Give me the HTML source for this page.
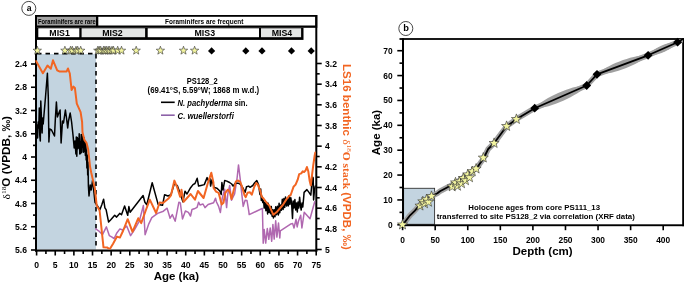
<!DOCTYPE html>
<html><head><meta charset="utf-8"><style>
html,body{margin:0;padding:0;background:#fff;}
body{width:685px;height:284px;overflow:hidden;}
svg{display:block;will-change:transform;}
</style></head><body>
<svg width="685" height="284" viewBox="0 0 685 284">
<rect width="685" height="284" fill="#fff"/>
<circle cx="28.8" cy="8.4" r="7" fill="#fff" stroke="#333" stroke-width="0.9"/>
<text x="29.10" y="10.50" font-family="Liberation Sans, sans-serif" font-size="8.6" font-weight="bold" fill="#000" text-anchor="middle"  >a</text>
<rect x="35.00" y="15.00" width="282.30" height="12.80" fill="#000" />
<rect x="37.00" y="16.80" width="59.00" height="8.70" fill="#a3a3a3" />
<rect x="98.30" y="16.80" width="217.00" height="8.70" fill="#fff" />
<rect x="35.00" y="27.80" width="268.50" height="12.10" fill="#000" />
<rect x="38.30" y="28.30" width="41.00" height="8.90" fill="#fff" />
<rect x="81.60" y="28.30" width="63.50" height="8.90" fill="#e4e6e5" />
<rect x="147.70" y="28.30" width="111.30" height="8.90" fill="#fff" />
<rect x="261.00" y="28.30" width="40.10" height="8.90" fill="#e4e6e5" />
<text x="38.00" y="23.50" font-family="Liberation Sans, sans-serif" font-size="6.7" font-weight="bold" fill="#000" text-anchor="start"  textLength="57.6" lengthAdjust="spacingAndGlyphs">Foraminifers are rare</text>
<text x="165.00" y="23.90" font-family="Liberation Sans, sans-serif" font-size="6.8" font-weight="bold" fill="#000" text-anchor="start"  textLength="78.4" lengthAdjust="spacingAndGlyphs">Foraminifers are frequent</text>
<text x="59.60" y="36.20" font-family="Liberation Sans, sans-serif" font-size="8.8" font-weight="bold" fill="#000" text-anchor="middle"  >MIS1</text>
<text x="112.50" y="36.20" font-family="Liberation Sans, sans-serif" font-size="8.8" font-weight="bold" fill="#000" text-anchor="middle"  >MIS2</text>
<text x="204.80" y="36.20" font-family="Liberation Sans, sans-serif" font-size="8.8" font-weight="bold" fill="#000" text-anchor="middle"  >MIS3</text>
<text x="282.00" y="36.20" font-family="Liberation Sans, sans-serif" font-size="8.8" font-weight="bold" fill="#000" text-anchor="middle"  >MIS4</text>
<rect x="37.00" y="54.00" width="59.00" height="195.50" fill="#c3d4e0" />
<rect x="35.00" y="15.00" width="2.00" height="236.60" fill="#000" />
<rect x="315.30" y="15.00" width="2.00" height="236.60" fill="#000" />
<rect x="35.00" y="249.50" width="282.30" height="2.10" fill="#000" />
<line x1="31.00" y1="64.00" x2="36.00" y2="64.00" stroke="#000" stroke-width="1.6" />
<text x="27.00" y="67.10" font-family="Liberation Sans, sans-serif" font-size="8.6" font-weight="bold" fill="#000" text-anchor="end"  >2.4</text>
<line x1="33.00" y1="75.62" x2="36.00" y2="75.62" stroke="#000" stroke-width="1.6" />
<line x1="31.00" y1="87.25" x2="36.00" y2="87.25" stroke="#000" stroke-width="1.6" />
<text x="27.00" y="90.35" font-family="Liberation Sans, sans-serif" font-size="8.6" font-weight="bold" fill="#000" text-anchor="end"  >2.8</text>
<line x1="33.00" y1="98.88" x2="36.00" y2="98.88" stroke="#000" stroke-width="1.6" />
<line x1="31.00" y1="110.50" x2="36.00" y2="110.50" stroke="#000" stroke-width="1.6" />
<text x="27.00" y="113.60" font-family="Liberation Sans, sans-serif" font-size="8.6" font-weight="bold" fill="#000" text-anchor="end"  >3.2</text>
<line x1="33.00" y1="122.12" x2="36.00" y2="122.12" stroke="#000" stroke-width="1.6" />
<line x1="31.00" y1="133.75" x2="36.00" y2="133.75" stroke="#000" stroke-width="1.6" />
<text x="27.00" y="136.85" font-family="Liberation Sans, sans-serif" font-size="8.6" font-weight="bold" fill="#000" text-anchor="end"  >3.6</text>
<line x1="33.00" y1="145.38" x2="36.00" y2="145.38" stroke="#000" stroke-width="1.6" />
<line x1="31.00" y1="157.00" x2="36.00" y2="157.00" stroke="#000" stroke-width="1.6" />
<text x="27.00" y="160.10" font-family="Liberation Sans, sans-serif" font-size="8.6" font-weight="bold" fill="#000" text-anchor="end"  >4</text>
<line x1="33.00" y1="168.62" x2="36.00" y2="168.62" stroke="#000" stroke-width="1.6" />
<line x1="31.00" y1="180.25" x2="36.00" y2="180.25" stroke="#000" stroke-width="1.6" />
<text x="27.00" y="183.35" font-family="Liberation Sans, sans-serif" font-size="8.6" font-weight="bold" fill="#000" text-anchor="end"  >4.4</text>
<line x1="33.00" y1="191.88" x2="36.00" y2="191.88" stroke="#000" stroke-width="1.6" />
<line x1="31.00" y1="203.50" x2="36.00" y2="203.50" stroke="#000" stroke-width="1.6" />
<text x="27.00" y="206.60" font-family="Liberation Sans, sans-serif" font-size="8.6" font-weight="bold" fill="#000" text-anchor="end"  >4.8</text>
<line x1="33.00" y1="215.12" x2="36.00" y2="215.12" stroke="#000" stroke-width="1.6" />
<line x1="31.00" y1="226.75" x2="36.00" y2="226.75" stroke="#000" stroke-width="1.6" />
<text x="27.00" y="229.85" font-family="Liberation Sans, sans-serif" font-size="8.6" font-weight="bold" fill="#000" text-anchor="end"  >5.2</text>
<line x1="33.00" y1="238.38" x2="36.00" y2="238.38" stroke="#000" stroke-width="1.6" />
<line x1="31.00" y1="250.00" x2="36.00" y2="250.00" stroke="#000" stroke-width="1.6" />
<text x="27.00" y="253.10" font-family="Liberation Sans, sans-serif" font-size="8.6" font-weight="bold" fill="#000" text-anchor="end"  >5.6</text>
<line x1="316.00" y1="63.50" x2="321.70" y2="63.50" stroke="#000" stroke-width="1.6" />
<text x="325.00" y="66.60" font-family="Liberation Sans, sans-serif" font-size="8.6" font-weight="bold" fill="#000" text-anchor="start"  >3.2</text>
<line x1="316.00" y1="73.83" x2="319.70" y2="73.83" stroke="#000" stroke-width="1.6" />
<line x1="316.00" y1="84.17" x2="321.70" y2="84.17" stroke="#000" stroke-width="1.6" />
<text x="325.00" y="87.27" font-family="Liberation Sans, sans-serif" font-size="8.6" font-weight="bold" fill="#000" text-anchor="start"  >3.4</text>
<line x1="316.00" y1="94.50" x2="319.70" y2="94.50" stroke="#000" stroke-width="1.6" />
<line x1="316.00" y1="104.83" x2="321.70" y2="104.83" stroke="#000" stroke-width="1.6" />
<text x="325.00" y="107.93" font-family="Liberation Sans, sans-serif" font-size="8.6" font-weight="bold" fill="#000" text-anchor="start"  >3.6</text>
<line x1="316.00" y1="115.17" x2="319.70" y2="115.17" stroke="#000" stroke-width="1.6" />
<line x1="316.00" y1="125.50" x2="321.70" y2="125.50" stroke="#000" stroke-width="1.6" />
<text x="325.00" y="128.60" font-family="Liberation Sans, sans-serif" font-size="8.6" font-weight="bold" fill="#000" text-anchor="start"  >3.8</text>
<line x1="316.00" y1="135.83" x2="319.70" y2="135.83" stroke="#000" stroke-width="1.6" />
<line x1="316.00" y1="146.17" x2="321.70" y2="146.17" stroke="#000" stroke-width="1.6" />
<text x="325.00" y="149.27" font-family="Liberation Sans, sans-serif" font-size="8.6" font-weight="bold" fill="#000" text-anchor="start"  >4</text>
<line x1="316.00" y1="156.50" x2="319.70" y2="156.50" stroke="#000" stroke-width="1.6" />
<line x1="316.00" y1="166.83" x2="321.70" y2="166.83" stroke="#000" stroke-width="1.6" />
<text x="325.00" y="169.93" font-family="Liberation Sans, sans-serif" font-size="8.6" font-weight="bold" fill="#000" text-anchor="start"  >4.2</text>
<line x1="316.00" y1="177.17" x2="319.70" y2="177.17" stroke="#000" stroke-width="1.6" />
<line x1="316.00" y1="187.50" x2="321.70" y2="187.50" stroke="#000" stroke-width="1.6" />
<text x="325.00" y="190.60" font-family="Liberation Sans, sans-serif" font-size="8.6" font-weight="bold" fill="#000" text-anchor="start"  >4.4</text>
<line x1="316.00" y1="197.83" x2="319.70" y2="197.83" stroke="#000" stroke-width="1.6" />
<line x1="316.00" y1="208.17" x2="321.70" y2="208.17" stroke="#000" stroke-width="1.6" />
<text x="325.00" y="211.27" font-family="Liberation Sans, sans-serif" font-size="8.6" font-weight="bold" fill="#000" text-anchor="start"  >4.6</text>
<line x1="316.00" y1="218.50" x2="319.70" y2="218.50" stroke="#000" stroke-width="1.6" />
<line x1="316.00" y1="228.83" x2="321.70" y2="228.83" stroke="#000" stroke-width="1.6" />
<text x="325.00" y="231.93" font-family="Liberation Sans, sans-serif" font-size="8.6" font-weight="bold" fill="#000" text-anchor="start"  >4.8</text>
<line x1="316.00" y1="239.17" x2="319.70" y2="239.17" stroke="#000" stroke-width="1.6" />
<line x1="316.00" y1="249.50" x2="321.70" y2="249.50" stroke="#000" stroke-width="1.6" />
<text x="325.00" y="252.60" font-family="Liberation Sans, sans-serif" font-size="8.6" font-weight="bold" fill="#000" text-anchor="start"  >5</text>
<line x1="36.60" y1="250.00" x2="36.60" y2="255.50" stroke="#000" stroke-width="1.6" />
<text x="36.60" y="267.80" font-family="Liberation Sans, sans-serif" font-size="8.6" font-weight="bold" fill="#000" text-anchor="middle"  >0</text>
<line x1="45.92" y1="250.00" x2="45.92" y2="254.00" stroke="#000" stroke-width="1.6" />
<line x1="55.24" y1="250.00" x2="55.24" y2="255.50" stroke="#000" stroke-width="1.6" />
<text x="55.24" y="267.80" font-family="Liberation Sans, sans-serif" font-size="8.6" font-weight="bold" fill="#000" text-anchor="middle"  >5</text>
<line x1="64.56" y1="250.00" x2="64.56" y2="254.00" stroke="#000" stroke-width="1.6" />
<line x1="73.88" y1="250.00" x2="73.88" y2="255.50" stroke="#000" stroke-width="1.6" />
<text x="73.88" y="267.80" font-family="Liberation Sans, sans-serif" font-size="8.6" font-weight="bold" fill="#000" text-anchor="middle"  >10</text>
<line x1="83.20" y1="250.00" x2="83.20" y2="254.00" stroke="#000" stroke-width="1.6" />
<line x1="92.52" y1="250.00" x2="92.52" y2="255.50" stroke="#000" stroke-width="1.6" />
<text x="92.52" y="267.80" font-family="Liberation Sans, sans-serif" font-size="8.6" font-weight="bold" fill="#000" text-anchor="middle"  >15</text>
<line x1="101.84" y1="250.00" x2="101.84" y2="254.00" stroke="#000" stroke-width="1.6" />
<line x1="111.16" y1="250.00" x2="111.16" y2="255.50" stroke="#000" stroke-width="1.6" />
<text x="111.16" y="267.80" font-family="Liberation Sans, sans-serif" font-size="8.6" font-weight="bold" fill="#000" text-anchor="middle"  >20</text>
<line x1="120.48" y1="250.00" x2="120.48" y2="254.00" stroke="#000" stroke-width="1.6" />
<line x1="129.80" y1="250.00" x2="129.80" y2="255.50" stroke="#000" stroke-width="1.6" />
<text x="129.80" y="267.80" font-family="Liberation Sans, sans-serif" font-size="8.6" font-weight="bold" fill="#000" text-anchor="middle"  >25</text>
<line x1="139.12" y1="250.00" x2="139.12" y2="254.00" stroke="#000" stroke-width="1.6" />
<line x1="148.44" y1="250.00" x2="148.44" y2="255.50" stroke="#000" stroke-width="1.6" />
<text x="148.44" y="267.80" font-family="Liberation Sans, sans-serif" font-size="8.6" font-weight="bold" fill="#000" text-anchor="middle"  >30</text>
<line x1="157.76" y1="250.00" x2="157.76" y2="254.00" stroke="#000" stroke-width="1.6" />
<line x1="167.08" y1="250.00" x2="167.08" y2="255.50" stroke="#000" stroke-width="1.6" />
<text x="167.08" y="267.80" font-family="Liberation Sans, sans-serif" font-size="8.6" font-weight="bold" fill="#000" text-anchor="middle"  >35</text>
<line x1="176.40" y1="250.00" x2="176.40" y2="254.00" stroke="#000" stroke-width="1.6" />
<line x1="185.72" y1="250.00" x2="185.72" y2="255.50" stroke="#000" stroke-width="1.6" />
<text x="185.72" y="267.80" font-family="Liberation Sans, sans-serif" font-size="8.6" font-weight="bold" fill="#000" text-anchor="middle"  >40</text>
<line x1="195.04" y1="250.00" x2="195.04" y2="254.00" stroke="#000" stroke-width="1.6" />
<line x1="204.36" y1="250.00" x2="204.36" y2="255.50" stroke="#000" stroke-width="1.6" />
<text x="204.36" y="267.80" font-family="Liberation Sans, sans-serif" font-size="8.6" font-weight="bold" fill="#000" text-anchor="middle"  >45</text>
<line x1="213.68" y1="250.00" x2="213.68" y2="254.00" stroke="#000" stroke-width="1.6" />
<line x1="223.00" y1="250.00" x2="223.00" y2="255.50" stroke="#000" stroke-width="1.6" />
<text x="223.00" y="267.80" font-family="Liberation Sans, sans-serif" font-size="8.6" font-weight="bold" fill="#000" text-anchor="middle"  >50</text>
<line x1="232.32" y1="250.00" x2="232.32" y2="254.00" stroke="#000" stroke-width="1.6" />
<line x1="241.64" y1="250.00" x2="241.64" y2="255.50" stroke="#000" stroke-width="1.6" />
<text x="241.64" y="267.80" font-family="Liberation Sans, sans-serif" font-size="8.6" font-weight="bold" fill="#000" text-anchor="middle"  >55</text>
<line x1="250.96" y1="250.00" x2="250.96" y2="254.00" stroke="#000" stroke-width="1.6" />
<line x1="260.28" y1="250.00" x2="260.28" y2="255.50" stroke="#000" stroke-width="1.6" />
<text x="260.28" y="267.80" font-family="Liberation Sans, sans-serif" font-size="8.6" font-weight="bold" fill="#000" text-anchor="middle"  >60</text>
<line x1="269.60" y1="250.00" x2="269.60" y2="254.00" stroke="#000" stroke-width="1.6" />
<line x1="278.92" y1="250.00" x2="278.92" y2="255.50" stroke="#000" stroke-width="1.6" />
<text x="278.92" y="267.80" font-family="Liberation Sans, sans-serif" font-size="8.6" font-weight="bold" fill="#000" text-anchor="middle"  >65</text>
<line x1="288.24" y1="250.00" x2="288.24" y2="254.00" stroke="#000" stroke-width="1.6" />
<line x1="297.56" y1="250.00" x2="297.56" y2="255.50" stroke="#000" stroke-width="1.6" />
<text x="297.56" y="267.80" font-family="Liberation Sans, sans-serif" font-size="8.6" font-weight="bold" fill="#000" text-anchor="middle"  >70</text>
<line x1="306.88" y1="250.00" x2="306.88" y2="254.00" stroke="#000" stroke-width="1.6" />
<line x1="316.20" y1="250.00" x2="316.20" y2="255.50" stroke="#000" stroke-width="1.6" />
<text x="316.20" y="267.80" font-family="Liberation Sans, sans-serif" font-size="8.6" font-weight="bold" fill="#000" text-anchor="middle"  >75</text>
<text x="176.40" y="279.60" font-family="Liberation Sans, sans-serif" font-size="11.5" font-weight="bold" fill="#000" text-anchor="middle"  >Age (ka)</text>
<g transform="translate(9.6,157.8) rotate(-90)">
<text id="llab" x="0" y="0" font-family="Liberation Sans, sans-serif" font-size="11" font-weight="bold" text-anchor="middle" textLength="83.5" lengthAdjust="spacingAndGlyphs"><tspan font-family="Liberation Serif, serif" font-weight="normal">δ</tspan><tspan font-family="Liberation Serif, serif" font-weight="normal" font-size="7" dy="-4">18</tspan><tspan dy="4">O (VPDB, ‰)</tspan></text>
</g>
<g transform="translate(343,157) rotate(90)">
<text id="rlab" x="0" y="0" font-family="Liberation Sans, sans-serif" font-size="11.4" font-weight="bold" fill="#f26522" text-anchor="middle" textLength="186" lengthAdjust="spacingAndGlyphs">LS16 benthic <tspan font-family="Liberation Serif, serif" font-weight="normal">δ</tspan><tspan font-family="Liberation Serif, serif" font-weight="normal" font-size="7" dy="-4">18</tspan><tspan font-family="Liberation Serif, serif" dy="4">O stack </tspan><tspan>(VPDB, ‰)</tspan></text>
</g>
<path d="M37,53.6 H96 V249.5" fill="none" stroke="#000" stroke-width="1.6" stroke-dasharray="4.5,4"/>
<defs><clipPath id="cpa"><rect x="35.3" y="53" width="280.5" height="196.5"/></clipPath></defs>
<g clip-path="url(#cpa)">
<polyline points="95.7,228.9 98.6,230.8 102.5,234.7 106.4,226.9 109.3,235.6 111.6,236.9 114.1,238.5 117.0,232.7 119.9,228.9 122.5,230.0 126.7,226.0 130.6,235.6 134.4,229.8 139.3,221.1 143.4,205.5 145.1,234.7 148.8,223.8 151.8,217.7 157.6,213.4 163.4,211.2 167.1,208.2 170.1,218.2 172.3,214.6 175.2,221.2 178.9,202.2 180.3,202.9 182.5,219.0 185.4,211.0 188.4,212.4 190.5,216.0 192.0,209.5 194.2,208.8 197.1,207.3 198.6,202.2 200.0,205.0 203.0,204.0 205.0,207.6 208.1,204.5 213.6,202.7 215.5,198.3 216.5,202.0 218.6,206.4 220.4,212.5 222.3,197.7 224.7,189.1 226.6,207.6 227.8,194.0 229.7,185.4 231.5,200.2 234.6,194.0 237.1,178.0 238.5,164.9 240.1,178.0 240.9,186.1 243.2,206.4 245.1,200.2 247.0,200.5 248.8,211.3 249.2,214.6 261.6,208.8 262.4,208.5 263.2,243.2 264.2,229.5 265.7,243.1 267.3,228.6 268.8,239.3 270.2,228.1 271.7,241.3 272.9,224.4 274.2,239.1 275.7,220.7 276.9,237.1 278.5,223.1 279.8,237.9 280.3,230.8 290.2,224.3 292.6,223.4 294.0,228.0 296.0,219.3 297.2,226.9 298.5,221.0 300.7,215.2 301.9,228.0 304.2,212.3 310.0,218.7 314.7,201.8" fill="none" stroke="#b068b0" stroke-width="1.5" stroke-linejoin="round" stroke-linecap="round" />
<polyline points="37.0,125.0 37.6,138.0 38.2,122.0 38.8,128.0 39.3,108.0 39.8,136.0 40.3,141.0 40.8,101.0 41.6,122.0 42.1,133.0 42.6,118.0 43.2,124.0 45.5,97.0 47.4,73.3 48.3,97.0 48.6,121.0 48.9,142.0 49.7,129.0 51.5,130.0 54.5,136.0 55.4,118.0 56.4,102.0 57.4,117.0 58.5,114.0 60.1,110.0 61.1,143.0 62.5,121.0 63.5,123.0 65.4,110.0 66.5,118.0 67.7,128.0 68.5,121.0 70.2,113.0 71.6,122.0 73.0,135.0 74.2,148.0 75.0,141.0 75.9,154.0 76.3,137.1 76.8,156.2 77.3,137.6 77.8,148.8 78.2,138.7 78.8,147.9 79.2,133.8 79.8,153.9 80.1,141.8 80.7,153.5 81.2,134.4 81.6,152.3 81.9,134.7 82.3,147.3 82.8,137.0 83.4,152.2 83.9,137.5 84.4,151.6 84.8,142.0 85.4,155.4 85.9,143.0 86.2,160.0 86.5,150.0 86.9,168.0 87.3,155.0 87.7,175.0 88.0,162.0 88.4,186.0 89.0,196.0 90.2,185.0 91.2,190.0 92.6,180.0 94.0,193.0 95.0,202.3 97.5,206.0 99.9,209.7 101.8,204.8 103.6,199.2 104.9,207.9 106.1,209.7 108.6,222.1 111.0,219.6 114.7,215.3 116.6,217.1 119.7,213.4 121.5,214.7 124.6,206.0 127.7,215.3 128.9,206.6 130.1,212.2 143.1,195.5 144.9,202.3 146.8,204.8 152.2,182.7 158.2,204.6 162.5,205.3 164.6,194.7 168.0,196.0 170.9,194.7 174.4,183.5 177.3,185.6 180.1,193.3 182.9,201.8 185.0,191.2 187.0,194.0 190.6,187.7 193.0,184.6 195.0,183.5 197.2,178.3 198.6,186.1 201.0,185.5 204.3,184.6 207.1,177.6 208.5,181.0 209.9,178.3 210.6,186.1 212.0,179.7 214.1,187.5 217.0,188.2 219.8,191.0 221.2,194.5 221.9,182.5 223.0,190.0 224.7,180.4 226.8,181.1 229.6,182.5 231.7,184.0 233.1,186.1 235.3,183.2 238.1,183.2 240.9,184.6 243.0,188.2 245.1,192.4 246.5,186.8 248.6,186.1 250.0,187.3 252.8,185.5 254.5,183.0 256.8,180.5 258.6,184.9 260.0,194.6 260.7,188.9 261.3,200.5 262.0,196.3 262.8,202.6 263.6,200.6 264.2,208.1 265.2,202.3 265.9,210.7 266.8,202.6 267.6,214.0 268.2,203.2 268.9,212.3 269.6,206.2 270.5,213.7 271.3,206.6 272.1,216.3 272.7,209.7 273.4,217.9 274.2,209.8 275.0,216.7 275.7,206.8 276.6,214.7 277.4,206.3 278.4,214.9 279.1,203.3 279.8,212.7 280.7,205.0 281.4,210.2 282.3,199.3 283.1,209.5 283.9,198.5 284.7,207.4 285.5,196.9 286.5,206.0 287.3,198.8 288.2,206.0 289.2,195.5 289.9,204.4 290.8,197.7 291.6,203.1 292.5,218.5 293.2,200.9 294.0,208.0 294.9,199.5 295.7,210.0 296.5,203.0 297.3,212.0 298.0,202.0 298.8,208.0 299.6,197.2 300.5,206.0 301.2,210.0 302.0,203.0 302.8,207.0 303.6,198.4 304.1,192.4 306.9,189.6 309.0,192.4 310.8,195.2 312.5,176.9 313.2,178.0 313.6,200.0 314.5,190.0 315.3,186.0" fill="none" stroke="#000" stroke-width="1.5" stroke-linejoin="round" stroke-linecap="round" />
<polyline points="36.0,61.1 42.9,73.2 47.5,65.6 50.8,68.7 53.0,60.3 57.2,70.3 59.3,71.4 66.7,71.4 68.0,68.5 69.8,73.5 71.6,90.0 73.5,86.6 74.9,88.0 76.8,103.6 80.6,112.1 82.1,122.0 82.5,132.3 84.4,139.9 86.5,142.8 88.2,149.5 90.1,167.0 91.2,172.5 94.9,188.6 96.7,205.6 99.6,210.5 103.5,247.3 107.4,247.6 109.7,249.2 113.2,243.4 117.0,236.6 119.9,237.6 123.0,231.0 127.7,219.2 132.5,231.8 138.3,218.2 141.2,223.1 146.1,209.5 149.8,199.6 156.1,213.0 159.6,202.5 163.0,203.0 168.8,198.2 170.9,195.4 174.4,180.6 177.3,187.7 180.1,196.8 181.5,189.8 183.6,201.8 190.6,194.0 195.0,199.6 197.9,191.0 203.6,198.0 207.8,183.2 211.3,172.7 213.4,182.5 213.6,187.9 216.1,191.6 218.6,192.8 220.4,199.6 221.6,204.5 223.5,202.7 225.3,192.8 227.8,189.7 229.7,191.6 231.5,199.0 233.4,191.6 235.8,181.7 237.7,180.5 240.1,181.7 242.0,186.6 244.5,195.3 245.7,197.1 247.5,192.8 250.0,192.3 251.8,194.7 254.3,186.7 256.2,183.0 257.5,184.0 259.9,189.8 261.7,196.6 263.5,198.5 265.4,201.2 267.9,204.3 269.1,205.2 270.9,209.3 273.4,214.8 276.5,212.3 280.2,208.0 283.3,204.3 286.4,199.4 289.4,195.7 290.5,195.5 293.5,186.8 295.6,184.6 297.7,179.7 299.2,174.1 301.3,173.4 302.7,171.3 304.1,172.0 305.5,170.6 306.9,167.0 308.3,171.3 309.7,181.1 310.8,185.4 311.8,176.9 313.2,165.6 314.6,156.0 315.3,152.5" fill="none" stroke="#f26522" stroke-width="2.0" stroke-linejoin="round" stroke-linecap="round" />
</g>
<polygon points="37.30,46.20 38.36,49.14 41.48,49.24 39.01,51.16 39.89,54.16 37.30,52.40 34.71,54.16 35.59,51.16 33.12,49.24 36.24,49.14" fill="#f3f5a0" stroke="#333" stroke-width="0.6" stroke-linejoin="miter"/>
<polygon points="64.90,46.20 65.96,49.14 69.08,49.24 66.61,51.16 67.49,54.16 64.90,52.40 62.31,54.16 63.19,51.16 60.72,49.24 63.84,49.14" fill="#f3f5a0" stroke="#333" stroke-width="0.6" stroke-linejoin="miter"/>
<polygon points="70.50,46.20 71.56,49.14 74.68,49.24 72.21,51.16 73.09,54.16 70.50,52.40 67.91,54.16 68.79,51.16 66.32,49.24 69.44,49.14" fill="#f3f5a0" stroke="#333" stroke-width="0.6" stroke-linejoin="miter"/>
<polygon points="72.30,46.20 73.36,49.14 76.48,49.24 74.01,51.16 74.89,54.16 72.30,52.40 69.71,54.16 70.59,51.16 68.12,49.24 71.24,49.14" fill="#f3f5a0" stroke="#333" stroke-width="0.6" stroke-linejoin="miter"/>
<polygon points="76.00,46.20 77.06,49.14 80.18,49.24 77.71,51.16 78.59,54.16 76.00,52.40 73.41,54.16 74.29,51.16 71.82,49.24 74.94,49.14" fill="#f3f5a0" stroke="#333" stroke-width="0.6" stroke-linejoin="miter"/>
<polygon points="77.70,46.20 78.76,49.14 81.88,49.24 79.41,51.16 80.29,54.16 77.70,52.40 75.11,54.16 75.99,51.16 73.52,49.24 76.64,49.14" fill="#f3f5a0" stroke="#333" stroke-width="0.6" stroke-linejoin="miter"/>
<polygon points="80.70,46.20 81.76,49.14 84.88,49.24 82.41,51.16 83.29,54.16 80.70,52.40 78.11,54.16 78.99,51.16 76.52,49.24 79.64,49.14" fill="#f3f5a0" stroke="#333" stroke-width="0.6" stroke-linejoin="miter"/>
<polygon points="97.80,46.20 98.86,49.14 101.98,49.24 99.51,51.16 100.39,54.16 97.80,52.40 95.21,54.16 96.09,51.16 93.62,49.24 96.74,49.14" fill="#f3f5a0" stroke="#333" stroke-width="0.6" stroke-linejoin="miter"/>
<polygon points="99.20,46.20 100.26,49.14 103.38,49.24 100.91,51.16 101.79,54.16 99.20,52.40 96.61,54.16 97.49,51.16 95.02,49.24 98.14,49.14" fill="#f3f5a0" stroke="#333" stroke-width="0.6" stroke-linejoin="miter"/>
<polygon points="100.70,46.20 101.76,49.14 104.88,49.24 102.41,51.16 103.29,54.16 100.70,52.40 98.11,54.16 98.99,51.16 96.52,49.24 99.64,49.14" fill="#f3f5a0" stroke="#333" stroke-width="0.6" stroke-linejoin="miter"/>
<polygon points="103.50,46.20 104.56,49.14 107.68,49.24 105.21,51.16 106.09,54.16 103.50,52.40 100.91,54.16 101.79,51.16 99.32,49.24 102.44,49.14" fill="#f3f5a0" stroke="#333" stroke-width="0.6" stroke-linejoin="miter"/>
<polygon points="104.90,46.20 105.96,49.14 109.08,49.24 106.61,51.16 107.49,54.16 104.90,52.40 102.31,54.16 103.19,51.16 100.72,49.24 103.84,49.14" fill="#f3f5a0" stroke="#333" stroke-width="0.6" stroke-linejoin="miter"/>
<polygon points="106.30,46.20 107.36,49.14 110.48,49.24 108.01,51.16 108.89,54.16 106.30,52.40 103.71,54.16 104.59,51.16 102.12,49.24 105.24,49.14" fill="#f3f5a0" stroke="#333" stroke-width="0.6" stroke-linejoin="miter"/>
<polygon points="108.20,46.20 109.26,49.14 112.38,49.24 109.91,51.16 110.79,54.16 108.20,52.40 105.61,54.16 106.49,51.16 104.02,49.24 107.14,49.14" fill="#f3f5a0" stroke="#333" stroke-width="0.6" stroke-linejoin="miter"/>
<polygon points="109.70,46.20 110.76,49.14 113.88,49.24 111.41,51.16 112.29,54.16 109.70,52.40 107.11,54.16 107.99,51.16 105.52,49.24 108.64,49.14" fill="#f3f5a0" stroke="#333" stroke-width="0.6" stroke-linejoin="miter"/>
<polygon points="112.00,46.20 113.06,49.14 116.18,49.24 113.71,51.16 114.59,54.16 112.00,52.40 109.41,54.16 110.29,51.16 107.82,49.24 110.94,49.14" fill="#f3f5a0" stroke="#333" stroke-width="0.6" stroke-linejoin="miter"/>
<polygon points="113.50,46.20 114.56,49.14 117.68,49.24 115.21,51.16 116.09,54.16 113.50,52.40 110.91,54.16 111.79,51.16 109.32,49.24 112.44,49.14" fill="#f3f5a0" stroke="#333" stroke-width="0.6" stroke-linejoin="miter"/>
<polygon points="117.70,46.20 118.76,49.14 121.88,49.24 119.41,51.16 120.29,54.16 117.70,52.40 115.11,54.16 115.99,51.16 113.52,49.24 116.64,49.14" fill="#f3f5a0" stroke="#333" stroke-width="0.6" stroke-linejoin="miter"/>
<polygon points="121.50,46.20 122.56,49.14 125.68,49.24 123.21,51.16 124.09,54.16 121.50,52.40 118.91,54.16 119.79,51.16 117.32,49.24 120.44,49.14" fill="#f3f5a0" stroke="#333" stroke-width="0.6" stroke-linejoin="miter"/>
<polygon points="136.20,46.20 137.26,49.14 140.38,49.24 137.91,51.16 138.79,54.16 136.20,52.40 133.61,54.16 134.49,51.16 132.02,49.24 135.14,49.14" fill="#f3f5a0" stroke="#333" stroke-width="0.6" stroke-linejoin="miter"/>
<polygon points="160.40,46.20 161.46,49.14 164.58,49.24 162.11,51.16 162.99,54.16 160.40,52.40 157.81,54.16 158.69,51.16 156.22,49.24 159.34,49.14" fill="#f3f5a0" stroke="#333" stroke-width="0.6" stroke-linejoin="miter"/>
<polygon points="183.50,46.20 184.56,49.14 187.68,49.24 185.21,51.16 186.09,54.16 183.50,52.40 180.91,54.16 181.79,51.16 179.32,49.24 182.44,49.14" fill="#f3f5a0" stroke="#333" stroke-width="0.6" stroke-linejoin="miter"/>
<polygon points="194.60,46.20 195.66,49.14 198.78,49.24 196.31,51.16 197.19,54.16 194.60,52.40 192.01,54.16 192.89,51.16 190.42,49.24 193.54,49.14" fill="#f3f5a0" stroke="#333" stroke-width="0.6" stroke-linejoin="miter"/>
<polygon points="211.60,47.30 215.20,50.90 211.60,54.50 208.00,50.90" fill="#000"/>
<polygon points="245.80,47.30 249.40,50.90 245.80,54.50 242.20,50.90" fill="#000"/>
<polygon points="262.00,47.30 265.60,50.90 262.00,54.50 258.40,50.90" fill="#000"/>
<polygon points="291.50,47.30 295.10,50.90 291.50,54.50 287.90,50.90" fill="#000"/>
<polygon points="311.20,47.30 314.80,50.90 311.20,54.50 307.60,50.90" fill="#000"/>
<text x="202.20" y="84.00" font-family="Liberation Sans, sans-serif" font-size="8.5" font-weight="bold" fill="#000" text-anchor="middle"  textLength="31" lengthAdjust="spacingAndGlyphs">PS128_2</text>
<text x="203.40" y="92.90" font-family="Liberation Sans, sans-serif" font-size="8.5" font-weight="bold" fill="#000" text-anchor="middle"  textLength="111.6" lengthAdjust="spacingAndGlyphs">(69.41°S, 5.59°W; 1868 m w.d.)</text>
<line x1="161.00" y1="102.30" x2="174.70" y2="102.30" stroke="#000" stroke-width="1.6" />
<text x="177.6" y="105.6" font-family="Liberation Sans, sans-serif" font-size="8.5" font-weight="bold" textLength="70" lengthAdjust="spacingAndGlyphs"><tspan font-style="italic">N. pachyderma</tspan> sin.</text>
<line x1="161.00" y1="115.20" x2="174.70" y2="115.20" stroke="#8d62a8" stroke-width="1.6" />
<text x="177.6" y="118.6" font-family="Liberation Sans, sans-serif" font-size="8.5" font-weight="bold" font-style="italic" textLength="56.2" lengthAdjust="spacingAndGlyphs">C. wuellerstorfi</text>
<circle cx="405.8" cy="28.5" r="7" fill="#fff" stroke="#333" stroke-width="0.9"/>
<text x="406.20" y="31.00" font-family="Liberation Sans, sans-serif" font-size="9.3" font-weight="bold" fill="#000" text-anchor="middle"  >b</text>
<rect x="403.60" y="188.30" width="31.00" height="36.00" fill="#c3d4e0" stroke="#333" stroke-width="0.9"/>
<rect x="399.50" y="38.10" width="284.50" height="1.80" fill="#000" />
<rect x="402.00" y="38.20" width="2.00" height="188.00" fill="#000" />
<rect x="682.20" y="38.20" width="1.80" height="188.00" fill="#000" />
<rect x="402.00" y="224.30" width="282.00" height="1.90" fill="#000" />
<line x1="397.30" y1="224.80" x2="403.00" y2="224.80" stroke="#000" stroke-width="1.6" />
<text x="392.60" y="227.80" font-family="Liberation Sans, sans-serif" font-size="8.4" font-weight="bold" fill="#000" text-anchor="end"  >0</text>
<line x1="399.50" y1="212.37" x2="403.00" y2="212.37" stroke="#000" stroke-width="1.6" />
<line x1="397.30" y1="199.93" x2="403.00" y2="199.93" stroke="#000" stroke-width="1.6" />
<text x="392.60" y="202.93" font-family="Liberation Sans, sans-serif" font-size="8.4" font-weight="bold" fill="#000" text-anchor="end"  >10</text>
<line x1="399.50" y1="187.50" x2="403.00" y2="187.50" stroke="#000" stroke-width="1.6" />
<line x1="397.30" y1="175.06" x2="403.00" y2="175.06" stroke="#000" stroke-width="1.6" />
<text x="392.60" y="178.06" font-family="Liberation Sans, sans-serif" font-size="8.4" font-weight="bold" fill="#000" text-anchor="end"  >20</text>
<line x1="399.50" y1="162.62" x2="403.00" y2="162.62" stroke="#000" stroke-width="1.6" />
<line x1="397.30" y1="150.19" x2="403.00" y2="150.19" stroke="#000" stroke-width="1.6" />
<text x="392.60" y="153.19" font-family="Liberation Sans, sans-serif" font-size="8.4" font-weight="bold" fill="#000" text-anchor="end"  >30</text>
<line x1="399.50" y1="137.75" x2="403.00" y2="137.75" stroke="#000" stroke-width="1.6" />
<line x1="397.30" y1="125.32" x2="403.00" y2="125.32" stroke="#000" stroke-width="1.6" />
<text x="392.60" y="128.32" font-family="Liberation Sans, sans-serif" font-size="8.4" font-weight="bold" fill="#000" text-anchor="end"  >40</text>
<line x1="399.50" y1="112.89" x2="403.00" y2="112.89" stroke="#000" stroke-width="1.6" />
<line x1="397.30" y1="100.45" x2="403.00" y2="100.45" stroke="#000" stroke-width="1.6" />
<text x="392.60" y="103.45" font-family="Liberation Sans, sans-serif" font-size="8.4" font-weight="bold" fill="#000" text-anchor="end"  >50</text>
<line x1="399.50" y1="88.02" x2="403.00" y2="88.02" stroke="#000" stroke-width="1.6" />
<line x1="397.30" y1="75.58" x2="403.00" y2="75.58" stroke="#000" stroke-width="1.6" />
<text x="392.60" y="78.58" font-family="Liberation Sans, sans-serif" font-size="8.4" font-weight="bold" fill="#000" text-anchor="end"  >60</text>
<line x1="399.50" y1="63.15" x2="403.00" y2="63.15" stroke="#000" stroke-width="1.6" />
<line x1="397.30" y1="50.71" x2="403.00" y2="50.71" stroke="#000" stroke-width="1.6" />
<text x="392.60" y="53.71" font-family="Liberation Sans, sans-serif" font-size="8.4" font-weight="bold" fill="#000" text-anchor="end"  >70</text>
<line x1="402.60" y1="225.00" x2="402.60" y2="230.20" stroke="#000" stroke-width="1.6" />
<text x="402.60" y="243.00" font-family="Liberation Sans, sans-serif" font-size="8.4" font-weight="bold" fill="#000" text-anchor="middle"  >0</text>
<line x1="435.18" y1="225.00" x2="435.18" y2="230.20" stroke="#000" stroke-width="1.6" />
<text x="435.18" y="243.00" font-family="Liberation Sans, sans-serif" font-size="8.4" font-weight="bold" fill="#000" text-anchor="middle"  >50</text>
<line x1="467.75" y1="225.00" x2="467.75" y2="230.20" stroke="#000" stroke-width="1.6" />
<text x="467.75" y="243.00" font-family="Liberation Sans, sans-serif" font-size="8.4" font-weight="bold" fill="#000" text-anchor="middle"  >100</text>
<line x1="500.33" y1="225.00" x2="500.33" y2="230.20" stroke="#000" stroke-width="1.6" />
<text x="500.33" y="243.00" font-family="Liberation Sans, sans-serif" font-size="8.4" font-weight="bold" fill="#000" text-anchor="middle"  >150</text>
<line x1="532.90" y1="225.00" x2="532.90" y2="230.20" stroke="#000" stroke-width="1.6" />
<text x="532.90" y="243.00" font-family="Liberation Sans, sans-serif" font-size="8.4" font-weight="bold" fill="#000" text-anchor="middle"  >200</text>
<line x1="565.48" y1="225.00" x2="565.48" y2="230.20" stroke="#000" stroke-width="1.6" />
<text x="565.48" y="243.00" font-family="Liberation Sans, sans-serif" font-size="8.4" font-weight="bold" fill="#000" text-anchor="middle"  >250</text>
<line x1="598.05" y1="225.00" x2="598.05" y2="230.20" stroke="#000" stroke-width="1.6" />
<text x="598.05" y="243.00" font-family="Liberation Sans, sans-serif" font-size="8.4" font-weight="bold" fill="#000" text-anchor="middle"  >300</text>
<line x1="630.62" y1="225.00" x2="630.62" y2="230.20" stroke="#000" stroke-width="1.6" />
<text x="630.62" y="243.00" font-family="Liberation Sans, sans-serif" font-size="8.4" font-weight="bold" fill="#000" text-anchor="middle"  >350</text>
<line x1="663.20" y1="225.00" x2="663.20" y2="230.20" stroke="#000" stroke-width="1.6" />
<text x="663.20" y="243.00" font-family="Liberation Sans, sans-serif" font-size="8.4" font-weight="bold" fill="#000" text-anchor="middle"  >400</text>
<g transform="translate(380.4,132.5) rotate(-90)">
<text x="0.00" y="0.00" font-family="Liberation Sans, sans-serif" font-size="11.5" font-weight="bold" fill="#000" text-anchor="middle"  >Age (ka)</text>
</g>
<text x="542.60" y="255.20" font-family="Liberation Sans, sans-serif" font-size="11.5" font-weight="bold" fill="#000" text-anchor="middle"  >Depth (cm)</text>
<text x="534.20" y="210.20" font-family="Liberation Sans, sans-serif" font-size="7.85" font-weight="bold" fill="#000" text-anchor="middle"  textLength="131.8" lengthAdjust="spacingAndGlyphs">Holocene ages from core PS111_13</text>
<text x="535.70" y="218.90" font-family="Liberation Sans, sans-serif" font-size="7.85" font-weight="bold" fill="#000" text-anchor="middle"  textLength="198.1" lengthAdjust="spacingAndGlyphs">transferred to site PS128_2 via correlation (XRF data)</text>
<clipPath id="cpb"><rect x="403" y="39" width="280" height="186"/></clipPath>
<g clip-path="url(#cpb)">
<polyline points="402.5,224.7 404.8,222.1 410.1,215.3 414.7,210.8 419.2,205.5 425.3,200.2 431.3,196.4 437.4,193.3 440.0,191.2 449.0,186.5 459.9,180.0 470.4,172.9 477.5,167.0 483.5,158.5 488.2,149.0 494.2,143.0 506.6,126.3 516.3,119.2 534.7,108.2 586.7,85.5 597.0,74.3 648.1,55.3 677.6,42.2 683.0,39.0" fill="none" stroke="#a0a0a0" stroke-width="5.5" stroke-linejoin="round" stroke-linecap="round" />
<path d="M534.7,108.2 C548.59,108.83 577.71,96.12 586.7,85.5 C572.81,84.87 543.69,97.58 534.7,108.2Z" fill="#a0a0a0"/>
<path d="M597,74.3 C610.24,75.49 638.86,64.85 648.1,55.3 C634.86,54.11 606.24,64.75 597,74.3Z" fill="#a0a0a0"/>
<path d="M648.1,55.3 C656.43,56.56 672.95,49.23 677.6,42.2 C669.27,40.94 652.75,48.27 648.1,55.3Z" fill="#a0a0a0"/>
<path d="M516.3,119.2 C521.85,119.30 532.16,113.14 534.7,108.2 C529.15,108.10 518.84,114.26 516.3,119.2Z" fill="#a0a0a0"/>
<path d="M494.2,143 C499.50,141.23 506.44,131.88 506.6,126.3 C501.30,128.07 494.36,137.42 494.2,143Z" fill="#a0a0a0"/>
<polyline points="402.5,224.7 404.8,222.1 410.1,215.3 414.7,210.8 419.2,205.5 425.3,200.2 431.3,196.4 437.4,193.3 440.0,191.2 449.0,186.5 459.9,180.0 470.4,172.9 477.5,167.0 483.5,158.5 488.2,149.0 494.2,143.0 506.6,126.3 516.3,119.2 534.7,108.2 586.7,85.5 597.0,74.3 648.1,55.3 677.6,42.2 683.0,39.0" fill="none" stroke="#000" stroke-width="1.8" stroke-linejoin="round" stroke-linecap="round" />
</g>
<polygon points="402.50,219.40 403.76,222.96 407.54,223.06 404.54,225.36 405.62,228.99 402.50,226.85 399.38,228.99 400.46,225.36 397.46,223.06 401.24,222.96" fill="#f3f5a0" stroke="#333" stroke-width="0.6" stroke-linejoin="miter"/>
<polygon points="420.00,200.50 421.26,204.06 425.04,204.16 422.04,206.46 423.12,210.09 420.00,207.95 416.88,210.09 417.96,206.46 414.96,204.16 418.74,204.06" fill="#f3f5a0" stroke="#333" stroke-width="0.6" stroke-linejoin="miter"/>
<polygon points="422.80,196.20 424.06,199.76 427.84,199.86 424.84,202.16 425.92,205.79 422.80,203.65 419.68,205.79 420.76,202.16 417.76,199.86 421.54,199.76" fill="#f3f5a0" stroke="#333" stroke-width="0.6" stroke-linejoin="miter"/>
<polygon points="424.50,198.20 425.76,201.76 429.54,201.86 426.54,204.16 427.62,207.79 424.50,205.65 421.38,207.79 422.46,204.16 419.46,201.86 423.24,201.76" fill="#f3f5a0" stroke="#333" stroke-width="0.6" stroke-linejoin="miter"/>
<polygon points="426.50,194.20 427.76,197.76 431.54,197.86 428.54,200.16 429.62,203.79 426.50,201.65 423.38,203.79 424.46,200.16 421.46,197.86 425.24,197.76" fill="#f3f5a0" stroke="#333" stroke-width="0.6" stroke-linejoin="miter"/>
<polygon points="428.50,196.70 429.76,200.26 433.54,200.36 430.54,202.66 431.62,206.29 428.50,204.15 425.38,206.29 426.46,202.66 423.46,200.36 427.24,200.26" fill="#f3f5a0" stroke="#333" stroke-width="0.6" stroke-linejoin="miter"/>
<polygon points="431.50,190.90 432.76,194.46 436.54,194.56 433.54,196.86 434.62,200.49 431.50,198.35 428.38,200.49 429.46,196.86 426.46,194.56 430.24,194.46" fill="#f3f5a0" stroke="#333" stroke-width="0.6" stroke-linejoin="miter"/>
<polygon points="452.20,181.30 453.46,184.86 457.24,184.96 454.24,187.26 455.32,190.89 452.20,188.75 449.08,190.89 450.16,187.26 447.16,184.96 450.94,184.86" fill="#f3f5a0" stroke="#333" stroke-width="0.6" stroke-linejoin="miter"/>
<polygon points="455.50,177.30 456.76,180.86 460.54,180.96 457.54,183.26 458.62,186.89 455.50,184.75 452.38,186.89 453.46,183.26 450.46,180.96 454.24,180.86" fill="#f3f5a0" stroke="#333" stroke-width="0.6" stroke-linejoin="miter"/>
<polygon points="457.50,180.70 458.76,184.26 462.54,184.36 459.54,186.66 460.62,190.29 457.50,188.15 454.38,190.29 455.46,186.66 452.46,184.36 456.24,184.26" fill="#f3f5a0" stroke="#333" stroke-width="0.6" stroke-linejoin="miter"/>
<polygon points="459.40,176.30 460.66,179.86 464.44,179.96 461.44,182.26 462.52,185.89 459.40,183.75 456.28,185.89 457.36,182.26 454.36,179.96 458.14,179.86" fill="#f3f5a0" stroke="#333" stroke-width="0.6" stroke-linejoin="miter"/>
<polygon points="461.50,178.20 462.76,181.76 466.54,181.86 463.54,184.16 464.62,187.79 461.50,185.65 458.38,187.79 459.46,184.16 456.46,181.86 460.24,181.76" fill="#f3f5a0" stroke="#333" stroke-width="0.6" stroke-linejoin="miter"/>
<polygon points="463.30,172.90 464.56,176.46 468.34,176.56 465.34,178.86 466.42,182.49 463.30,180.35 460.18,182.49 461.26,178.86 458.26,176.56 462.04,176.46" fill="#f3f5a0" stroke="#333" stroke-width="0.6" stroke-linejoin="miter"/>
<polygon points="465.50,175.20 466.76,178.76 470.54,178.86 467.54,181.16 468.62,184.79 465.50,182.65 462.38,184.79 463.46,181.16 460.46,178.86 464.24,178.76" fill="#f3f5a0" stroke="#333" stroke-width="0.6" stroke-linejoin="miter"/>
<polygon points="467.80,169.30 469.06,172.86 472.84,172.96 469.84,175.26 470.92,178.89 467.80,176.75 464.68,178.89 465.76,175.26 462.76,172.96 466.54,172.86" fill="#f3f5a0" stroke="#333" stroke-width="0.6" stroke-linejoin="miter"/>
<polygon points="469.50,172.20 470.76,175.76 474.54,175.86 471.54,178.16 472.62,181.79 469.50,179.65 466.38,181.79 467.46,178.16 464.46,175.86 468.24,175.76" fill="#f3f5a0" stroke="#333" stroke-width="0.6" stroke-linejoin="miter"/>
<polygon points="472.30,166.10 473.56,169.66 477.34,169.76 474.34,172.06 475.42,175.69 472.30,173.55 469.18,175.69 470.26,172.06 467.26,169.76 471.04,169.66" fill="#f3f5a0" stroke="#333" stroke-width="0.6" stroke-linejoin="miter"/>
<polygon points="476.10,163.50 477.36,167.06 481.14,167.16 478.14,169.46 479.22,173.09 476.10,170.95 472.98,173.09 474.06,169.46 471.06,167.16 474.84,167.06" fill="#f3f5a0" stroke="#333" stroke-width="0.6" stroke-linejoin="miter"/>
<polygon points="483.30,152.50 484.56,156.06 488.34,156.16 485.34,158.46 486.42,162.09 483.30,159.95 480.18,162.09 481.26,158.46 478.26,156.16 482.04,156.06" fill="#f3f5a0" stroke="#333" stroke-width="0.6" stroke-linejoin="miter"/>
<polygon points="494.10,137.90 495.36,141.46 499.14,141.56 496.14,143.86 497.22,147.49 494.10,145.35 490.98,147.49 492.06,143.86 489.06,141.56 492.84,141.46" fill="#f3f5a0" stroke="#333" stroke-width="0.6" stroke-linejoin="miter"/>
<polygon points="506.60,120.90 507.86,124.46 511.64,124.56 508.64,126.86 509.72,130.49 506.60,128.35 503.48,130.49 504.56,126.86 501.56,124.56 505.34,124.46" fill="#f3f5a0" stroke="#333" stroke-width="0.6" stroke-linejoin="miter"/>
<polygon points="516.40,113.90 517.66,117.46 521.44,117.56 518.44,119.86 519.52,123.49 516.40,121.35 513.28,123.49 514.36,119.86 511.36,117.56 515.14,117.46" fill="#f3f5a0" stroke="#333" stroke-width="0.6" stroke-linejoin="miter"/>
<polygon points="534.70,103.80 539.10,108.20 534.70,112.60 530.30,108.20" fill="#000"/>
<polygon points="586.70,81.10 591.10,85.50 586.70,89.90 582.30,85.50" fill="#000"/>
<polygon points="597.00,69.90 601.40,74.30 597.00,78.70 592.60,74.30" fill="#000"/>
<polygon points="648.10,50.90 652.50,55.30 648.10,59.70 643.70,55.30" fill="#000"/>
<polygon points="677.60,37.80 682.00,42.20 677.60,46.60 673.20,42.20" fill="#000"/>
</svg>
</body></html>
